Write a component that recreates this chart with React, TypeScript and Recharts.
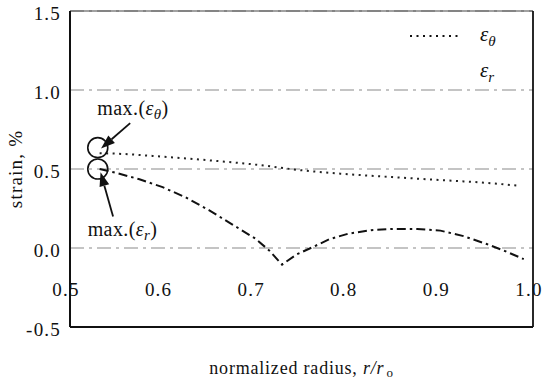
import React from 'react';
import { LineChart, Line, XAxis, YAxis, CartesianGrid, ReferenceLine, ReferenceDot, Legend } from 'recharts';

// ---- data ----
const rTheta = [0.532, 0.55, 0.6, 0.65, 0.7, 0.75, 0.8, 0.85, 0.9, 0.95, 0.985];
const epsTheta = [0.6, 0.597, 0.578, 0.555, 0.528, 0.492, 0.467, 0.448, 0.43, 0.412, 0.394];

const rRadial = [0.532, 0.55, 0.575, 0.6, 0.625, 0.65, 0.675, 0.7, 0.715, 0.729, 0.745, 0.76, 0.78, 0.8, 0.825, 0.85, 0.875, 0.9, 0.925, 0.95, 0.97, 0.99];
const epsRadial = [0.5, 0.475, 0.435, 0.385, 0.32, 0.24, 0.15, 0.06, -0.015, -0.105, -0.04, 0.0, 0.055, 0.09, 0.113, 0.121, 0.12, 0.11, 0.075, 0.025, -0.02, -0.07];

const xTicks = [0.5, 0.6, 0.7, 0.8, 0.9, 1.0];
const yTicks = [-0.5, 0.0, 0.5, 1.0, 1.5];

const seriesNames = ['εθ', 'εr'];
const seriesSubs = ['θ', 'r'];

// annotation points (data coordinates)
const maxTheta = { r: 0.53, v: 0.635 };
const maxRadial = { r: 0.53, v: 0.5 };
const arrowTheta = [{ x: 0.565, y: 0.79 }, { x: 0.5335, y: 0.63 }];
const arrowRadial = [{ x: 0.5465, y: 0.2 }, { x: 0.533, y: 0.48 }];
const labelTheta = { r: 0.568, v: 0.841 };
const labelRadial = { r: 0.5567, v: 0.075 };

const thetaData = rTheta.map((r, i) => ({ r, v: epsTheta[i] }));
const radialData = rRadial.map((r, i) => ({ r, v: epsRadial[i] }));

const FONT = 'Liberation Serif';
const INK = '#111';

const XTick = (props: any) => {
  const { x, y, payload } = props;
  return (
    <text x={x - 4} y={y - 38} textAnchor="middle" dominantBaseline="central" fontFamily={FONT} fontSize={19} letterSpacing={1.2} fill={INK}>
      {Number(payload.value).toFixed(1)}
    </text>
  );
};

const YTick = (props: any) => {
  const { x, y, payload } = props;
  return (
    <text x={x} y={y + 2} textAnchor="end" dominantBaseline="central" fontFamily={FONT} fontSize={19} letterSpacing={1.2} fill={INK}>
      {Number(payload.value).toFixed(1)}
    </text>
  );
};

const Arrow = (props: any) => {
  const { x1, y1, x2, y2 } = props;
  if ([x1, y1, x2, y2].some((v) => typeof v !== 'number' || isNaN(v))) return null;
  const ang = Math.atan2(y2 - y1, x2 - x1);
  const L = 14;
  const W = 5;
  const bx = x2 - L * Math.cos(ang);
  const by = y2 - L * Math.sin(ang);
  const px = -Math.sin(ang) * W;
  const py = Math.cos(ang) * W;
  return (
    <g>
      <line x1={x1} y1={y1} x2={bx} y2={by} stroke={INK} strokeWidth={1.8} />
      <polygon points={`${x2},${y2} ${bx + px},${by + py} ${bx - px},${by - py}`} fill={INK} />
    </g>
  );
};

const makeMaxLabel = (sub: string) => (props: any) => {
  const { cx, cy } = props;
  return (
    <text x={cx} y={cy} textAnchor="middle" fontFamily={FONT} fontSize={20} letterSpacing={0.4} fill={INK}>
      max.(
      <tspan fontStyle="italic">ε</tspan>
      <tspan fontStyle="italic" fontSize={15} dy={4}>{sub}</tspan>
      <tspan dy={-4}>)</tspan>
    </text>
  );
};

const renderLegend = (props: any) => {
  const payload = props.payload || [];
  return (
    <svg width={110} height={72} style={{ display: 'block' }}>
      {payload.map((entry: any, i: number) => {
        const yy = 18 + i * 36;
        return (
          <g key={i}>
            {i === 0 && (
              <line x1={5} x2={57} y1={yy} y2={yy} stroke={INK} strokeWidth={2} strokeDasharray="2 4.5" />
            )}
            <text x={75} y={yy + 5} fontFamily={FONT} fontSize={21} fontStyle="italic" fill={INK}>
              ε
              <tspan fontSize={15} dy={5}>{seriesSubs[i]}</tspan>
            </text>
          </g>
        );
      })}
    </svg>
  );
};

export default function App() {
  return (
    <div style={{ position: 'absolute', left: 0, top: 0, width: 542, height: 383, background: '#fff' }}>
      <LineChart width={542} height={383} margin={{ top: 11, right: 9, left: 10, bottom: 6 }}>
        <CartesianGrid vertical={false} stroke="#8a8a8a" strokeWidth={1.1} strokeDasharray="14 5 3 5" />
        <XAxis
          dataKey="r"
          type="number"
          domain={[0.5, 1.0]}
          ticks={xTicks}
          allowDataOverflow
          height={50}
          tickSize={0}
          tickMargin={0}
          tickLine={false}
          axisLine={{ stroke: INK, strokeWidth: 2 }}
          tick={<XTick />}
          interval={0}
          label={{
            content: (p: any) => {
              const vb = p.viewBox || {};
              return (
                <text x={vb.x + vb.width / 2} y={vb.y + 47} textAnchor="middle" fontFamily={FONT} fontSize={18} letterSpacing={0.8} fill={INK}>
                  normalized radius,{' '}
                  <tspan fontStyle="italic">r</tspan>
                  <tspan fontStyle="italic">/</tspan>
                  <tspan fontStyle="italic">r</tspan>
                  <tspan fontSize={13} dy={3} dx={2}>o</tspan>
                </text>
              );
            },
          }}
        />
        <YAxis
          type="number"
          domain={[-0.5, 1.5]}
          ticks={yTicks}
          width={60}
          tickSize={0}
          tickMargin={9}
          tickLine={false}
          axisLine={{ stroke: INK, strokeWidth: 2 }}
          tick={<YTick />}
          interval={0}
          label={{
            content: (p: any) => {
              const vb = p.viewBox || {};
              const cx = vb.x + 5;
              const cy = vb.y + vb.height / 2;
              return (
                <text x={cx} y={cy} transform={`rotate(-90 ${cx} ${cy})`} textAnchor="middle" dominantBaseline="central" fontFamily={FONT} fontSize={19} letterSpacing={1.2} fill={INK}>
                  strain, %
                </text>
              );
            },
          }}
        />
        <ReferenceLine y={1.5} stroke="#444" strokeWidth={1.2} />
        <ReferenceLine x={1.0} stroke={INK} strokeWidth={1.8} />
        <Line
          data={thetaData}
          dataKey="v"
          name={seriesNames[0]}
          type="monotone"
          stroke="#222"
          strokeWidth={2}
          strokeDasharray="2 4.5"
          dot={false}
          isAnimationActive={false}
        />
        <Line
          data={radialData}
          dataKey="v"
          name={seriesNames[1]}
          type="linear"
          stroke={INK}
          strokeWidth={2}
          strokeDasharray="9 4 2.5 4"
          dot={false}
          isAnimationActive={false}
        />
        <ReferenceDot x={maxTheta.r} y={maxTheta.v} r={10} fill="none" stroke={INK} strokeWidth={1.6} />
        <ReferenceDot x={maxRadial.r} y={maxRadial.v} r={10} fill="none" stroke={INK} strokeWidth={1.6} />
        <ReferenceLine segment={arrowTheta} shape={<Arrow />} />
        <ReferenceLine segment={arrowRadial} shape={<Arrow />} />
        <ReferenceDot x={labelTheta.r} y={labelTheta.v} shape={makeMaxLabel('θ')} />
        <ReferenceDot x={labelRadial.r} y={labelRadial.v} shape={makeMaxLabel('r')} />
        <Legend
          layout="vertical"
          align="center"
          verticalAlign="middle"
          wrapperStyle={{ left: 405, top: 18, width: 110, height: 72 }}
          content={renderLegend}
        />
      </LineChart>
    </div>
  );
}
